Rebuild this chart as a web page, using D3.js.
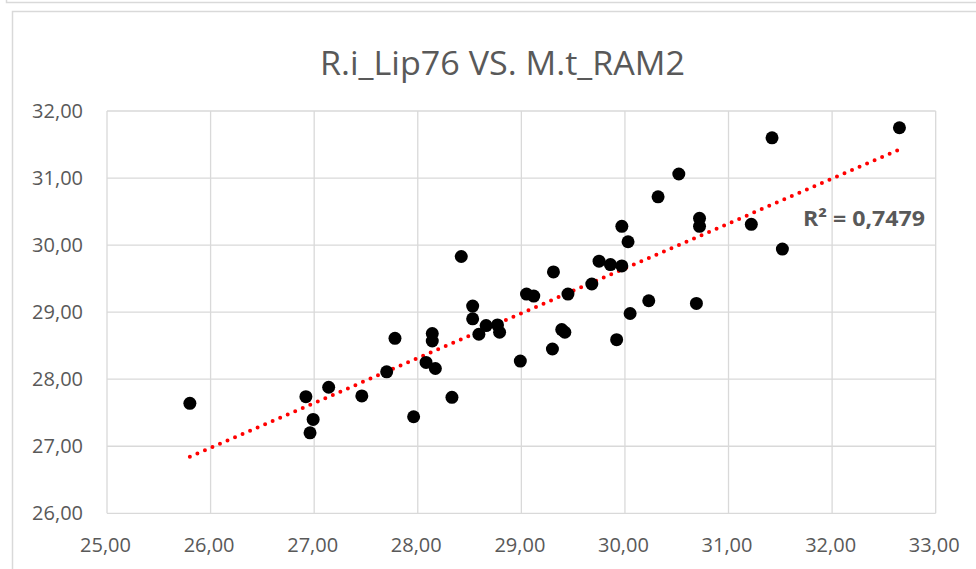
<!DOCTYPE html>
<html>
<head>
<meta charset="utf-8">
<script src="https://cdn.jsdelivr.net/npm/d3@7"></script>
<style>
  html, body { margin: 0; padding: 0; background: #fff; }
  svg { display: block; }
  text { font-family: "Open Sans", "Noto Sans", sans-serif; fill: #595959; }
</style>
</head>
<body>
<svg id="chart" width="976" height="569"></svg>
<script>
const chartTitle = "R.i_Lip76 VS. M.t_RAM2";
const r2Label = "R² = 0,7479";
const xTicks = [25, 26, 27, 28, 29, 30, 31, 32, 33];
const yTicks = [26, 27, 28, 29, 30, 31, 32];
const xValues = [25.80, 26.92, 27.14, 26.99, 26.96, 27.46, 27.70, 27.78, 27.96, 28.08,
                 28.42, 28.53, 28.53, 28.14, 28.14, 28.17, 28.33, 28.66, 28.59, 28.77,
                 28.79, 28.99, 29.05, 29.12, 29.31, 29.39, 29.42, 29.30, 29.45, 29.68,
                 29.75, 29.86, 29.97, 30.03, 29.97, 30.05, 29.92, 30.23, 32.65, 31.42,
                 30.52, 30.32, 30.72, 30.72, 31.22, 31.52, 30.69];
const yValues = [27.64, 27.74, 27.88, 27.40, 27.20, 27.75, 28.11, 28.61, 27.44, 28.25,
                 29.83, 29.09, 28.90, 28.68, 28.57, 28.16, 27.73, 28.80, 28.67, 28.81,
                 28.70, 28.27, 29.27, 29.24, 29.60, 28.74, 28.70, 28.45, 29.27, 29.42,
                 29.76, 29.71, 29.69, 30.05, 30.28, 28.98, 28.59, 29.17, 31.75, 31.60,
                 31.06, 30.72, 30.40, 30.28, 30.31, 29.94, 29.13];

const fmt = v => d3.format(".2f")(v).replace(".", ",");
const svg = d3.select("#chart");

// outer frames
svg.append("rect").attr("x", 6.5).attr("y", -30).attr("width", 1000).attr("height", 32.5)
  .attr("fill", "none").attr("stroke", "#d9d9d9").attr("stroke-width", 1.5);
svg.append("rect").attr("x", 12.5).attr("y", 11.5).attr("width", 1000).attr("height", 600)
  .attr("fill", "#fff").attr("stroke", "#d9d9d9").attr("stroke-width", 1.5);

const L = 107, R = 935.7, T = 111, B = 513.3;
const x = d3.scaleLinear().domain([25, 33]).range([L, R]);
const y = d3.scaleLinear().domain([26, 32]).range([B, T]);

// gridlines
svg.append("g").selectAll("line").data(xTicks).join("line")
  .attr("x1", d => x(d)).attr("x2", d => x(d)).attr("y1", T).attr("y2", B)
  .attr("stroke", "#d9d9d9").attr("stroke-width", 1.3);
svg.append("g").selectAll("line").data(yTicks).join("line")
  .attr("x1", L).attr("x2", R).attr("y1", d => y(d)).attr("y2", d => y(d))
  .attr("stroke", "#d9d9d9").attr("stroke-width", 1.3);

// axes labels via d3 axes
const xAxis = svg.append("g").attr("transform", `translate(0,${B})`)
  .call(d3.axisBottom(x).tickValues(xTicks).tickFormat(fmt).tickSize(0).tickPadding(25));
xAxis.select(".domain").remove();
xAxis.selectAll("text").attr("font-size", 20).style("fill", "#595959")
  .attr("font-family", "'Open Sans', sans-serif").attr("dx", -2);

const yAxis = svg.append("g").attr("transform", `translate(${L},0)`)
  .call(d3.axisLeft(y).tickValues(yTicks).tickFormat(fmt).tickSize(0).tickPadding(24));
yAxis.select(".domain").remove();
yAxis.selectAll("text").attr("font-size", 20).style("fill", "#595959")
  .attr("font-family", "'Open Sans', sans-serif");

// trend line (least squares)
const n = xValues.length;
const mx = d3.mean(xValues), my = d3.mean(yValues);
let sxy = 0, sxx = 0;
for (let i = 0; i < n; i++) { sxy += (xValues[i]-mx)*(yValues[i]-my); sxx += (xValues[i]-mx)**2; }
const slope = sxy / sxx, icpt = my - slope * mx;
const xe = d3.extent(xValues);
svg.append("path")
  .attr("d", d3.line().x(d => x(d)).y(d => y(icpt + slope * d))(xe))
  .attr("fill", "none").attr("stroke", "#ff0000").attr("stroke-width", 4)
  .attr("stroke-linecap", "round").attr("stroke-dasharray", "0,8.2");

// points
svg.append("g").selectAll("circle").data(xValues.map((v, i) => [v, yValues[i]])).join("circle")
  .attr("cx", d => x(d[0])).attr("cy", d => y(d[1])).attr("r", 6.5).attr("fill", "#000");

// R² label
svg.append("text").attr("x", 803).attr("y", 226).attr("font-size", 21).attr("font-weight", 700)
  .attr("textLength", 122).attr("lengthAdjust", "spacingAndGlyphs").text(r2Label);

// title
svg.append("text").attr("x", 320).attr("y", 75).attr("font-size", 33)
  .attr("textLength", 365).attr("lengthAdjust", "spacingAndGlyphs").text(chartTitle);
</script>
</body>
</html>
